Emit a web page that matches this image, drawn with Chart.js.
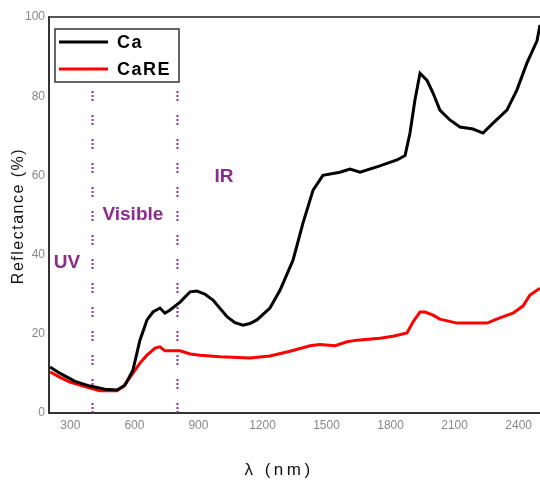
<!DOCTYPE html>
<html>
<head>
<meta charset="utf-8">
<script src="https://cdn.jsdelivr.net/npm/chart.js@4/dist/chart.umd.min.js"></script>
<style>
html, body { margin: 0; padding: 0; background: #fff; overflow: hidden; }
</style>
</head>
<body>
<canvas id="chart" width="540" height="482"></canvas>
<script>
const seriesNames = ["Ca", "CaRE"];

const caWavelength = [205, 252, 322, 392, 462, 518, 556, 593, 626, 659, 687, 720, 743, 767, 814, 861, 893, 931, 968, 1034, 1071, 1109, 1141, 1174, 1235, 1282, 1343, 1390, 1437, 1483, 1563, 1610, 1657, 1750, 1830, 1868, 1891, 1914, 1938, 1971, 1999, 2031, 2078, 2125, 2186, 2233, 2280, 2345, 2392, 2439, 2486, 2500];
const caReflectance = [11.6, 10, 8, 6.8, 6.0, 5.8, 7, 10.8, 18.4, 23.5, 25.5, 26.5, 25.2, 26, 28, 30.6, 30.8, 30, 28.5, 24.3, 22.8, 22.2, 22.6, 23.5, 26.5, 31, 38.6, 48, 56.3, 60, 60.8, 61.6, 60.8, 62.4, 63.9, 65, 70.7, 79, 85.8, 84, 80.8, 76.5, 74, 72.2, 71.7, 70.7, 73.2, 76.5, 81.6, 88.4, 94, 98];

const careWavelength = [205, 252, 298, 392, 439, 518, 547, 593, 626, 659, 697, 720, 743, 814, 861, 907, 1001, 1141, 1235, 1329, 1423, 1469, 1540, 1596, 1643, 1750, 1811, 1877, 1905, 1938, 1961, 1999, 2031, 2111, 2252, 2312, 2373, 2420, 2453, 2500];
const careReflectance = [10.4, 9, 7.8, 6.3, 5.6, 5.6, 6.6, 10, 12.6, 14.6, 16.4, 16.7, 15.7, 15.7, 14.9, 14.6, 14.2, 13.9, 14.4, 15.6, 17, 17.3, 17, 18, 18.4, 18.9, 19.4, 20.2, 23, 25.5, 25.5, 24.7, 23.7, 22.7, 22.7, 24, 25.2, 27, 29.8, 31.5];

const xTicks = [300, 600, 900, 1200, 1500, 1800, 2100, 2400];
const yTicks = [0, 20, 40, 60, 80, 100];

const xTitle = "λ (nm)";
const yTitle = "Reflectance (%)";

const regionBounds = [400, 800];
const regionNames = ["UV", "Visible", "IR"];
const regionSpots = [[284, 37.9], [593, 50], [1020, 59.6]];

const purple = "#8e2a8e";
const fontFamily = "'Liberation Sans', Arial, sans-serif";

const pair = (xs, ys) => xs.map((x, i) => ({ x: x, y: ys[i] }));

// marco superior, líneas punteadas, títulos y etiquetas de región
const extras = {
	id: "extras",
	beforeDatasetsDraw(chart) {
		const { ctx, chartArea, scales } = chart;
		ctx.save();
		ctx.strokeStyle = purple;
		ctx.lineWidth = 2;
		ctx.setLineDash([2, 2, 2, 2, 2, 14]);
		regionBounds.forEach((b) => {
			const px = Math.round(scales.x.getPixelForValue(b)) + 0.5;
			ctx.beginPath();
			ctx.moveTo(px, chartArea.bottom);
			ctx.lineTo(px, chartArea.top + 70);
			ctx.stroke();
		});
		ctx.restore();
	},
	afterDraw(chart) {
		const { ctx, chartArea, scales } = chart;
		ctx.save();
		// línea superior
		ctx.strokeStyle = "#555";
		ctx.lineWidth = 2;
		ctx.beginPath();
		ctx.moveTo(chartArea.left, chartArea.top);
		ctx.lineTo(chartArea.right, chartArea.top);
		ctx.stroke();

		// títulos de ejes
		ctx.fillStyle = "#111";
		ctx.textAlign = "center";
		ctx.textBaseline = "middle";
		ctx.font = "17px " + fontFamily;
		ctx.letterSpacing = "3.5px";
		ctx.fillText(xTitle, 279, 470);
		ctx.save();
		ctx.translate(19, 216);
		ctx.rotate(-Math.PI / 2);
		ctx.font = "16px " + fontFamily;
		ctx.letterSpacing = "1.5px";
		ctx.fillText(yTitle, 0, 0);
		ctx.restore();
		ctx.letterSpacing = "0px";

		// etiquetas UV / Visible / IR
		ctx.fillStyle = purple;
		ctx.font = "bold 19px " + fontFamily;
		regionNames.forEach((name, i) => {
			ctx.fillText(name, scales.x.getPixelForValue(regionSpots[i][0]), scales.y.getPixelForValue(regionSpots[i][1]));
		});

		// leyenda con recuadro
		const bx = 55, by = 29, bw = 124, bh = 53;
		ctx.strokeStyle = "#333";
		ctx.lineWidth = 1.5;
		ctx.strokeRect(bx, by, bw, bh);
		ctx.font = "bold 18px " + fontFamily;
		ctx.letterSpacing = "1.5px";
		ctx.textAlign = "left";
		chart.data.datasets.forEach((ds, i) => {
			const ly = by + 13 + i * 27;
			ctx.strokeStyle = ds.borderColor;
			ctx.lineWidth = 3;
			ctx.beginPath();
			ctx.moveTo(bx + 4, ly);
			ctx.lineTo(bx + 53, ly);
			ctx.stroke();
			ctx.fillStyle = "#000";
			ctx.fillText(ds.label, bx + 62, ly + 1);
		});
		ctx.restore();
	},
};

const ctx = document.getElementById("chart").getContext("2d");
new Chart(ctx, {
	type: "line",
	data: {
		datasets: [
			{
				label: seriesNames[0],
				data: pair(caWavelength, caReflectance),
				borderColor: "#000000",
				borderWidth: 3,
				pointRadius: 0,
			},
			{
				label: seriesNames[1],
				data: pair(careWavelength, careReflectance),
				borderColor: "#ff0000",
				borderWidth: 3,
				pointRadius: 0,
			},
		],
	},
	options: {
		responsive: false,
		devicePixelRatio: 1,
		animation: false,
		layout: { padding: { top: 17, right: 0, left: 0, bottom: 0 } },
		plugins: {
			legend: { display: false },
			tooltip: { enabled: false },
		},
		scales: {
			x: {
				type: "linear",
				min: 200,
				max: 2500,
				afterBuildTicks: (scale) => {
					scale.ticks = xTicks.map((v) => ({ value: v }));
				},
				afterFit: (scale) => {
					scale.height = 69;
				},
				grid: { display: false, drawTicks: false },
				border: { color: "#333", width: 2 },
				ticks: {
					color: "#888",
					padding: 5,
					maxRotation: 0,
					callback: (v) => String(v),
					font: { family: fontFamily, size: 12 },
				},
			},
			y: {
				min: 0,
				max: 100,
				afterBuildTicks: (scale) => {
					scale.ticks = yTicks.map((v) => ({ value: v }));
				},
				afterFit: (scale) => {
					scale.width = 49;
				},
				grid: { display: false, drawTicks: false },
				border: { color: "#333", width: 2 },
				ticks: {
					color: "#888",
					padding: 4,
					callback: (v) => String(v),
					font: { family: fontFamily, size: 12 },
				},
			},
		},
	},
	plugins: [extras],
});
</script>
</body>
</html>
